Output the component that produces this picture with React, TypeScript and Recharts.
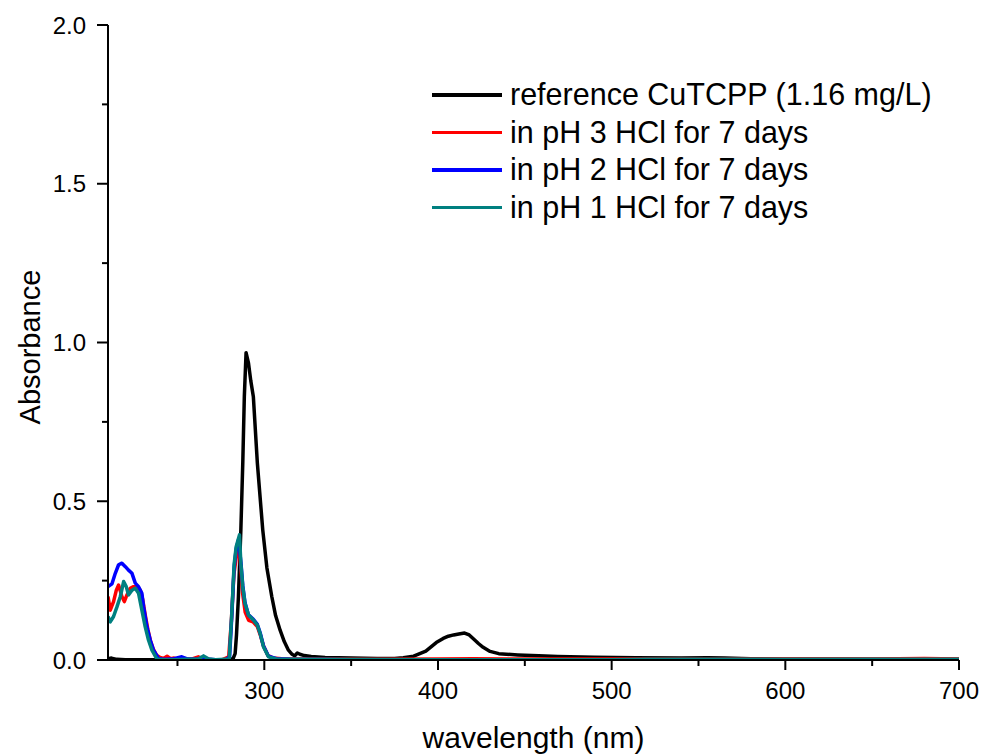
import React from "react";
import { LineChart, Line, XAxis, YAxis, Legend } from "recharts";

const FONT = "'Liberation Sans', Arial, sans-serif";

// x axis ticks (majors labelled every 100 nm, minors every 50 nm)
const xTicks = [250, 300, 350, 400, 450, 500, 550, 600, 650, 700];
const yTicks = [0, 0.25, 0.5, 0.75, 1, 1.25, 1.5, 1.75, 2];

const seriesNames = [
  "reference CuTCPP (1.16 mg/L)",
  "in pH 3 HCl for 7 days",
  "in pH 2 HCl for 7 days",
  "in pH 1 HCl for 7 days",
];
const seriesColors = ["#000000", "#ff0000", "#0000ff", "#008080"];

// reference CuTCPP
const refWl = [
  210, 212, 215, 220, 230, 240, 250, 260, 270, 278, 282, 283.2, 284, 285.1, 286.5, 287.6,
  288.5, 289.5, 290.9, 292.2, 293.7, 296, 299.1, 301.5, 304.3, 306.5, 309.1, 311.5, 313.9,
  316, 317.5, 319, 320.5, 323, 327, 335, 350, 365, 375, 380, 386, 393, 399, 403, 406, 409,
  412, 415.3, 418, 421, 423.3, 426, 430, 435, 446, 458, 469, 490, 514, 540, 555, 565, 580,
  620, 660, 700,
];
const refAbs = [
  0.004, 0.006, 0.002, 0.001, 0.001, 0.001, 0.001, 0.001, 0.001, 0.001, 0.004, 0.02, 0.08,
  0.2, 0.41, 0.62, 0.83, 0.968, 0.935, 0.88, 0.829, 0.62, 0.41, 0.29, 0.2, 0.14, 0.094, 0.058,
  0.031, 0.018, 0.013, 0.022, 0.018, 0.014, 0.011, 0.008, 0.006, 0.005, 0.005, 0.007, 0.012,
  0.028, 0.055, 0.068, 0.075, 0.079, 0.082, 0.085, 0.079, 0.064, 0.052, 0.04, 0.027, 0.02,
  0.016, 0.013, 0.011, 0.009, 0.007, 0.006, 0.007, 0.006, 0.004, 0.003, 0.002, 0.002,
];

// pH 3
const ph3Wl = [
  210, 211.3, 213.2, 214.8, 216.1, 218, 219.4, 220.9, 222.8, 224.7, 226.7, 228.6, 230, 231.5,
  233, 234.5, 236, 238, 240, 242, 244, 246, 248, 250, 254, 258, 262, 264, 266, 270, 276,
  279.5, 281, 282.5, 284, 285.5, 286.5, 287.5, 289, 291, 293.5, 296, 297.6, 299.5, 302, 305,
  310, 320, 360, 400, 420, 440, 500, 560, 600, 650, 680, 700,
];
const ph3Abs = [
  0.2, 0.157, 0.184, 0.22, 0.236, 0.2, 0.184, 0.205, 0.226, 0.231, 0.231, 0.22, 0.19, 0.14,
  0.095, 0.06, 0.035, 0.015, 0.008, 0.005, 0.012, 0.004, 0.006, 0.003, 0.002, 0.003, 0.01,
  0.006, 0.002, 0.001, 0.001, 0.01, 0.12, 0.27, 0.33, 0.345, 0.29, 0.21, 0.15, 0.125, 0.12,
  0.105, 0.08, 0.045, 0.015, 0.006, 0.004, 0.003, 0.002, 0.003, 0.004, 0.003, 0.003, 0.002,
  0.004, 0.003, 0.005, 0.003,
];

// pH 2
const ph2Wl = [
  210, 212.3, 214.2, 216.1, 218, 220, 221.8, 223.8, 225.7, 227.6, 229.5, 230.5, 232.4, 234.3,
  236.2, 239.1, 241, 244, 248, 252.5, 256, 260, 264, 268, 272, 278, 280, 281.3, 282.6, 283.8,
  285.1, 286.5, 287.6, 288.9, 290.9, 293.7, 296, 297.6, 299.5, 302.4, 307, 315, 350, 400, 500,
  600, 700,
];
const ph2Abs = [
  0.231, 0.24, 0.273, 0.3, 0.305, 0.294, 0.283, 0.273, 0.242, 0.231, 0.21, 0.168, 0.105,
  0.063, 0.031, 0.005, 0.003, 0.002, 0.004, 0.01, 0.003, 0.002, 0.003, 0.002, 0.001, 0.001,
  0.01, 0.14, 0.29, 0.35, 0.378, 0.31, 0.235, 0.18, 0.142, 0.128, 0.112, 0.086, 0.045, 0.012,
  0.004, 0.002, 0.001, 0.001, 0.001, 0.001, 0.001,
];

// pH 1
const ph1Wl = [
  210, 211.3, 213.2, 215.2, 217.1, 219, 220.5, 221.8, 223.8, 225.7, 227.6, 229.5, 231.4,
  233.3, 235.3, 238.2, 242, 248, 255, 262, 265, 268, 272, 279.8, 281.3, 282.6, 283.8, 285.7,
  286.5, 287.6, 288.9, 290.9, 293.7, 296, 297.6, 299.5, 302.4, 307, 320, 400, 500, 520, 600,
  650, 700,
];
const ph1Abs = [
  0.137, 0.12, 0.137, 0.168, 0.2, 0.247, 0.231, 0.205, 0.22, 0.226, 0.21, 0.157, 0.105,
  0.063, 0.031, 0.003, 0.001, 0.001, 0.002, 0.003, 0.013, 0.003, 0.001, 0.003, 0.15, 0.3,
  0.357, 0.394, 0.305, 0.231, 0.178, 0.142, 0.126, 0.11, 0.084, 0.042, 0.01, 0.003, 0.002,
  0.001, 0.001, 0.002, 0.002, 0.002, 0.002,
];

const zip = (wl: number[], abs: number[]) => wl.map((w, i) => ({ wl: w, abs: abs[i] }));

const series = [
  zip(refWl, refAbs),
  zip(ph3Wl, ph3Abs),
  zip(ph2Wl, ph2Abs),
  zip(ph1Wl, ph1Abs),
];

const XTick = (props: any) => {
  const { x, y, payload } = props;
  const major = payload.value % 100 === 0;
  return (
    <g>
      <line x1={x} x2={x} y1={y} y2={y + (major ? 10 : 6)} stroke="#000" strokeWidth={2} />
      {major && (
        <text x={x} y={y + 39} textAnchor="middle" fontSize={24} fontFamily={FONT} fill="#000">
          {payload.value}
        </text>
      )}
    </g>
  );
};

const YTick = (props: any) => {
  const { x, y, payload } = props;
  const v = payload.value;
  const major = Math.abs(v * 2 - Math.round(v * 2)) < 1e-6;
  return (
    <g>
      <line x1={x} x2={x - (major ? 11 : 6)} y1={y} y2={y} stroke="#000" strokeWidth={2} />
      {major && (
        <text x={x - 22} y={y + 8.5} textAnchor="end" fontSize={24} fontFamily={FONT} fill="#000">
          {v.toFixed(1)}
        </text>
      )}
    </g>
  );
};

const XTitle = () => (
  <text x={533.5} y={748} textAnchor="middle" fontSize={30} fontFamily={FONT} fill="#000">
    wavelength (nm)
  </text>
);

const YTitle = () => (
  <text
    x={40}
    y={347}
    transform="rotate(-90 40 347)"
    textAnchor="middle"
    fontSize={29}
    fontFamily={FONT}
    fill="#000"
  >
    Absorbance
  </text>
);

const LegendBox = (props: any) => {
  // keep the plotting order rather than the alphabetical one
  const items = [...(props.payload || [])].sort(
    (a: any, b: any) => seriesNames.indexOf(a.value) - seriesNames.indexOf(b.value)
  );
  return (
    <div style={{ fontFamily: FONT, fontSize: 30.5, color: "#000" }}>
      {items.map((it: any) => (
        <div key={it.value} style={{ display: "flex", alignItems: "center", height: 37.5 }}>
          <div style={{ width: 70, height: 3.5, background: it.color, marginRight: 8 }} />
          <span style={{ whiteSpace: "nowrap", lineHeight: "37.5px" }}>{it.value}</span>
        </div>
      ))}
    </div>
  );
};

export default function App() {
  return (
    <div style={{ position: "absolute", left: 0, top: 0, background: "#fff" }}>
      <LineChart width={984} height={754} margin={{ top: 25, right: 25, bottom: 34, left: 28 }}>
        <XAxis
          type="number"
          dataKey="wl"
          domain={[210, 700]}
          allowDataOverflow
          ticks={xTicks}
          interval={0}
          tickSize={0}
          tickMargin={0}
          tickLine={false}
          tick={<XTick />}
          height={60}
          axisLine={{ stroke: "#000", strokeWidth: 2 }}
          label={{ value: "wavelength (nm)", content: XTitle }}
        />
        <YAxis
          type="number"
          dataKey="abs"
          domain={[0, 2]}
          allowDataOverflow
          ticks={yTicks}
          interval={0}
          tickSize={0}
          tickMargin={0}
          tickLine={false}
          tick={<YTick />}
          width={80}
          axisLine={{ stroke: "#000", strokeWidth: 2 }}
          label={{ value: "Absorbance", content: YTitle }}
        />
        <Legend
          layout="vertical"
          align="center"
          verticalAlign="middle"
          content={<LegendBox />}
          wrapperStyle={{ left: 432, top: 76, width: 540, height: 160 }}
        />
        {series.map((d, i) => (
          <Line
            key={seriesNames[i]}
            data={d}
            dataKey="abs"
            name={seriesNames[i]}
            type="linear"
            stroke={seriesColors[i]}
            strokeWidth={3.5}
            dot={false}
            activeDot={false}
            strokeLinejoin="round"
            isAnimationActive={false}
          />
        ))}
      </LineChart>
    </div>
  );
}
